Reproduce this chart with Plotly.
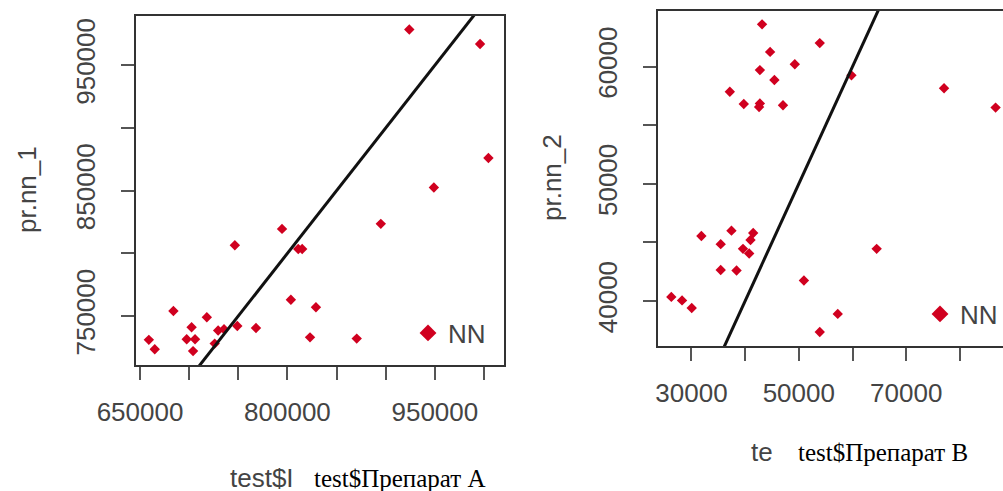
import plotly.graph_objects as go

# ---- data ----
a_actual = [659000, 665000, 684000, 697500, 702500, 704000, 706000, 718000, 726000, 729500,
            735500, 746500, 749000, 768000, 794500, 803500, 811000, 815000, 823000, 829000,
            870500, 895000, 924000, 949000, 996000, 1004500]
a_pred = [731000, 723500, 754000, 731500, 741000, 722000, 731500, 749000, 728000, 738500,
          739500, 806500, 742000, 740500, 819500, 763000, 803500, 803500, 733000, 757000,
          732000, 823500, 978500, 852500, 967000, 876000]

b_actual = [43150, 53900, 44650, 49250, 42750, 59800, 45450, 77050, 37150, 39750,
            42750, 42600, 47050, 86650, 31850, 37450, 41500, 41000, 35450, 39600,
            64500, 40750, 35450, 38400, 50950, 26250, 28250, 30050, 57250, 53900]
b_pred = [63600, 62000, 61250, 60200, 59700, 59250, 58850, 58150, 57850, 56800,
          56850, 56550, 56700, 56500, 45550, 46000, 45800, 45200, 44850, 44450,
          44450, 44050, 42650, 42600, 41750, 40350, 40050, 39400, 38900, 37350]

a_xticks = [650000, 700000, 750000, 800000, 850000, 900000, 950000, 1000000]
a_xlabels = ["650000", "", "", "800000", "", "", "950000", ""]
a_yticks = [750000, 800000, 850000, 900000, 950000]
a_ylabels = ["750000", "", "850000", "", "950000"]
b_xticks = [30000, 40000, 50000, 60000, 70000, 80000]
b_xlabels = ["30000", "", "50000", "", "70000", ""]
b_yticks = [40000, 45000, 50000, 55000, 60000]
b_ylabels = ["40000", "", "50000", "", "60000"]

a_xrange = [645930, 1020350]
a_yrange = [710930, 989300]
b_xrange = [23770, 88030]
b_yrange = [36160, 64740]

W, H = 1003, 491
RED = "#d0001f"
GRAY = "#444444"
SANS = "Liberation Sans, Arial, sans-serif"
SERIF = "Liberation Serif, Times New Roman, serif"

fig = go.Figure()

# points
fig.add_trace(go.Scatter(x=a_actual, y=a_pred, mode="markers", xaxis="x", yaxis="y",
                         marker=dict(symbol="diamond", size=8, color=RED), showlegend=False))
fig.add_trace(go.Scatter(x=b_actual, y=b_pred, mode="markers", xaxis="x2", yaxis="y2",
                         marker=dict(symbol="diamond", size=8, color=RED), showlegend=False))

# identity lines y = x
lo, hi = min(a_xrange[0], a_yrange[0]), max(a_xrange[1], a_yrange[1])
fig.add_trace(go.Scatter(x=[lo, hi], y=[lo, hi], mode="lines", xaxis="x", yaxis="y",
                         line=dict(color="#111111", width=3), showlegend=False))
lo2, hi2 = min(b_xrange[0], b_yrange[0]), max(b_xrange[1], b_yrange[1])
fig.add_trace(go.Scatter(x=[lo2, hi2], y=[lo2, hi2], mode="lines", xaxis="x2", yaxis="y2",
                         line=dict(color="#111111", width=3), showlegend=False))

# legend entries
fig.add_trace(go.Scatter(x=[None], y=[None], mode="markers", name="NN", xaxis="x", yaxis="y",
                         marker=dict(symbol="diamond", size=13, color=RED), legend="legend"))
fig.add_trace(go.Scatter(x=[None], y=[None], mode="markers", name="NN", xaxis="x2", yaxis="y2",
                         marker=dict(symbol="diamond", size=13, color=RED), legend="legend2"))

axis_common = dict(showgrid=False, zeroline=False, showline=True, linecolor="#333333",
                   linewidth=2, ticks="outside", ticklen=13, tickwidth=2, tickcolor="#555555",
                   tickfont=dict(family=SANS, size=26, color=GRAY), automargin=False)

fig.update_layout(
    width=W, height=H, margin=dict(l=0, r=0, t=0, b=0, autoexpand=False),
    paper_bgcolor="white", plot_bgcolor="white",
    xaxis=dict(axis_common, domain=[136 / W, 504 / W], range=a_xrange, mirror=True,
               tickvals=a_xticks, ticktext=a_xlabels, anchor="y", ticklabelstandoff=10),
    yaxis=dict(axis_common, domain=[1 - 365 / H, 1 - 16 / H], range=a_yrange, mirror=True,
               tickvals=a_yticks, ticktext=a_ylabels, tickangle=-90, anchor="x",
               ticklabelstandoff=16),
    xaxis2=dict(axis_common, domain=[658 / W, 1.0], range=b_xrange, mirror=True,
                tickvals=b_xticks, ticktext=b_xlabels, anchor="y2", ticklabelstandoff=10),
    yaxis2=dict(axis_common, domain=[1 - 346 / H, 1 - 11 / H], range=b_yrange,
                tickvals=b_yticks, ticktext=b_ylabels, tickangle=-90, anchor="x2",
                ticklabelstandoff=16),
    legend=dict(x=408 / W, y=1 - 333 / H, xanchor="left", yanchor="middle",
                bgcolor="rgba(0,0,0,0)", font=dict(family=SANS, size=26, color=GRAY)),
    legend2=dict(x=1.0, y=1 - 314 / H, xanchor="right", yanchor="middle",
                 bgcolor="rgba(0,0,0,0)", font=dict(family=SANS, size=26, color=GRAY)),
)

annos = [
    dict(text="pr.nn_1", x=27 / W, y=1 - 190 / H, textangle=-90,
         font=dict(family=SANS, size=26, color=GRAY)),
    dict(text="pr.nn_2", x=552 / W, y=1 - 178 / H, textangle=-90,
         font=dict(family=SANS, size=26, color=GRAY)),
    dict(text="test$I", x=228 / W, y=1 - 478 / H, xanchor="left",
         font=dict(family=SANS, size=26, color=GRAY)),
    dict(text="test$Препарат A", x=312 / W, y=1 - 478 / H, xanchor="left",
         font=dict(family=SERIF, size=25, color="#000000")),
    dict(text="te", x=749 / W, y=1 - 452 / H, xanchor="left",
         font=dict(family=SANS, size=26, color=GRAY)),
    dict(text="test$Препарат B", x=796 / W, y=1 - 452 / H, xanchor="left",
         font=dict(family=SERIF, size=25, color="#000000")),
]
for a in annos:
    a.setdefault("xanchor", "center")
    fig.add_annotation(xref="paper", yref="paper", showarrow=False, yanchor="middle", **a)

fig.write_html("out.html", config={"displayModeBar": False},
               post_script="document.body.style.margin='0px';")
